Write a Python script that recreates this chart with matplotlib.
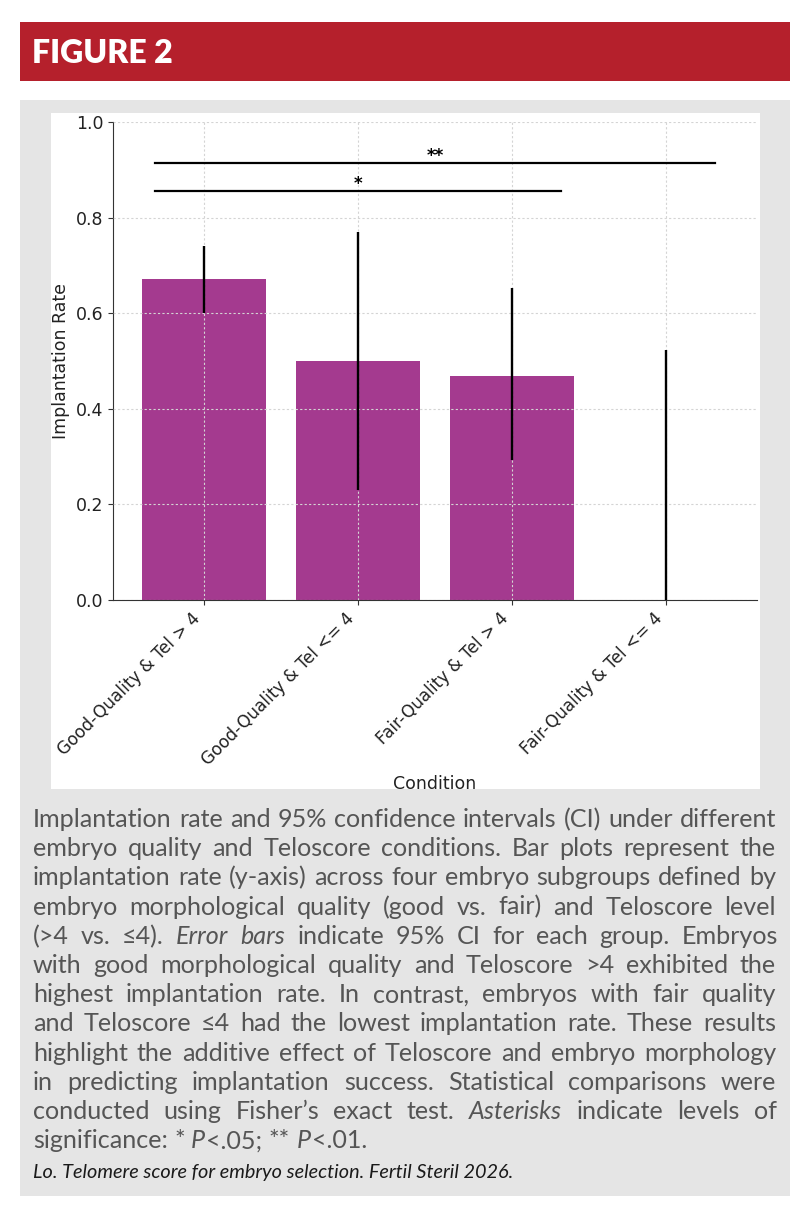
import numpy as np
import matplotlib
matplotlib.use("Agg")
import matplotlib.pyplot as plt
from matplotlib.patches import Rectangle

# chart data
conditions = ["Good-Quality & Tel > 4", "Good-Quality & Tel <= 4",
              "Fair-Quality & Tel > 4", "Fair-Quality & Tel <= 4"]
rates = [0.672, 0.500, 0.469, 0.0]
ci_low = [0.600, 0.230, 0.293, 0.0]
ci_high = [0.741, 0.770, 0.653, 0.523]

# significance brackets (first bar, last bar, height, label)
sig_from = [0, 0]
sig_to = [2, 3]
sig_height = [0.856, 0.914]
sig_label = ["*", "**"]

title = "FIGURE 2"
# '_' toggles italics, one list item per printed line
caption_lines = [
    "Implantation rate and 95% confidence intervals (CI) under different",
    "embryo quality and Teloscore conditions. Bar plots represent the",
    "implantation rate (y-axis) across four embryo subgroups defined by",
    "embryo morphological quality (good vs. fair) and Teloscore level",
    "(>4 vs. \u22644). _Error bars_ indicate 95% CI for each group. Embryos",
    "with good morphological quality and Teloscore >4 exhibited the",
    "highest implantation rate. In contrast, embryos with fair quality",
    "and Teloscore \u22644 had the lowest implantation rate. These results",
    "highlight the additive effect of Teloscore and embryo morphology",
    "in predicting implantation success. Statistical comparisons were",
    "conducted using Fisher\u2019s exact test. _Asterisks_ indicate levels of",
    "significance: * _P_<.05; ** _P_<.01.",
]
citation = "Lo. Telomere score for embryo selection. Fertil Steril 2026."

W, H = 800, 1209
fig = plt.figure(figsize=(W / 100, H / 100), dpi=100)
fig.patch.set_facecolor("white")


def px_rect(x0, y0, x1, y1):
    return [x0 / W, 1 - y1 / H, (x1 - x0) / W, (y1 - y0) / H]


def add_box(x0, y0, x1, y1, color, z):
    l, b, w, h = px_rect(x0, y0, x1, y1)
    fig.add_artist(Rectangle((l, b), w, h, transform=fig.transFigure,
                             facecolor=color, edgecolor="none", zorder=z))


add_box(20, 22, 790, 81, "#b5202c", -3)
add_box(20, 100, 790, 1196, "#e5e5e5", -3)
add_box(51, 113, 760, 789, "white", -2)

# --- bar chart
ax = fig.add_axes(px_rect(113, 122, 757, 600))
x = np.arange(len(conditions))
r = np.array(rates)
yerr = [r - np.array(ci_low), np.array(ci_high) - r]
ax.bar(x, r, width=0.8, color="#a43a8f", yerr=yerr,
       error_kw=dict(ecolor="black", elinewidth=1.7, capsize=0, zorder=4))

for i, j, h, lab in zip(sig_from, sig_to, sig_height, sig_label):
    ax.plot([i - 0.32, j + 0.32], [h, h], color="black", lw=1.6, zorder=4)
    ax.text((i + j) / 2, h + 0.004, lab, ha="center", va="baseline",
            fontsize=12, fontweight="bold", zorder=4)

ax.set_ylim(0, 1.0)
ax.set_xticks(x)
ax.set_xticklabels(conditions, rotation=45, ha="right", fontsize=12.2)
ax.tick_params(axis="y", labelsize=12.5)
ax.tick_params(colors="#333333", labelcolor="#222222")
ax.set_xlabel("Condition", fontsize=12.5, color="#222222")
ax.set_ylabel("Implantation Rate", fontsize=12.5, color="#222222")
ax.set_yticks([0.0, 0.2, 0.4, 0.6, 0.8, 1.0])
for s in ["top", "right"]:
    ax.spines[s].set_visible(False)
for s in ["left", "bottom"]:
    ax.spines[s].set_color("#333333")
ax.set_axisbelow(False)
ax.grid(True, linestyle=(0, (2, 2)), color="#d4d4d4", linewidth=0.8)

# --- text blocks
renderer = fig.canvas.get_renderer()


def width_of(s, **kw):
    t = fig.text(0, 0, s, **kw)
    w = t.get_window_extent(renderer).width
    t.remove()
    return w


def parse(line):
    words, italic = [], False
    for token in line.split(" "):
        pieces, buf = [], ""
        for ch in token:
            if ch == "_":
                if buf:
                    pieces.append((buf, italic))
                buf = ""
                italic = not italic
            else:
                buf += ch
        if buf:
            pieces.append((buf, italic))
        words.append(pieces)
    return words


cap_font = "Lato"
parsed = [parse(l) for l in caption_lines]


def word_widths(words, size):
    out = []
    for pieces in words:
        out.append([width_of(p, family=cap_font, size=size,
                             style="italic" if it else "normal")
                    for p, it in pieces])
    return out


# fit font size so the longest justified line fills the column
left, right = 33, 776
base = 10.0
sp = width_of("n n", family=cap_font, size=base) - width_of("nn", family=cap_font, size=base)
nat = []
for words in parsed[:-1]:
    ww = word_widths(words, base)
    nat.append(sum(sum(w) for w in ww) + sp * (len(words) - 1))
cap_size = base * (right - left - 4) / max(nat)
space = width_of("n n", family=cap_font, size=cap_size) - width_of("nn", family=cap_font, size=cap_size)

y0, step = 827, 29.2
for k, words in enumerate(parsed):
    ww = word_widths(words, cap_size)
    total = sum(sum(w) for w in ww)
    last = k == len(parsed) - 1
    gap = space if last else (right - left - total) / (len(words) - 1)
    cx = left
    yb = 1 - (y0 + k * step) / H
    for pieces, wl in zip(words, ww):
        for (p, it), w in zip(pieces, wl):
            fig.text(cx / W, yb, p, family=cap_font, size=cap_size,
                     style="italic" if it else "normal", color="#555555",
                     ha="left", va="baseline")
            cx += w + (1 if it else 0)
        cx += gap

cit_size = 10 * 480 / width_of(citation, family=cap_font, size=10, style="italic")
fig.text(33 / W, 1 - 1178 / H, citation, family=cap_font, size=cit_size,
         style="italic", color="#1a1a1a", ha="left", va="baseline")

title_size = 20 * 141 / width_of(title, family=cap_font, size=20, weight="heavy")
fig.text(32 / W, 1 - 63 / H, title, family=cap_font, size=title_size,
         weight="heavy", color="white", ha="left", va="baseline")

fig.savefig("out.png", dpi=100)
